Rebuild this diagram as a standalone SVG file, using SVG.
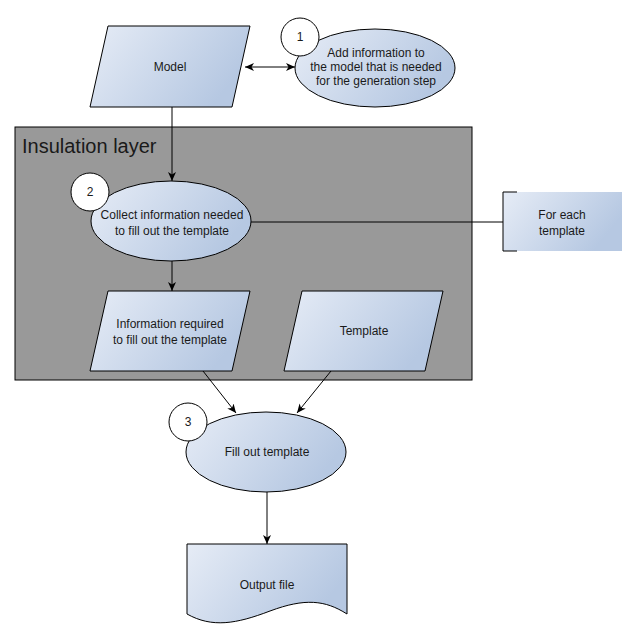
<svg xmlns="http://www.w3.org/2000/svg" width="637" height="640" viewBox="0 0 637 640">
<defs>
<linearGradient id="g" x1="0" y1="0" x2="1" y2="0.4">
<stop offset="0" stop-color="#e6ecf6"/>
<stop offset="1" stop-color="#b6c8e2"/>
</linearGradient>
<marker id="a" markerWidth="10" markerHeight="10" refX="9" refY="5" orient="auto" markerUnits="userSpaceOnUse">
<path d="M0,1 L9,5 L0,9 L2.5,5 Z" fill="#000"/>
</marker>
<marker id="as" markerWidth="10" markerHeight="10" refX="0" refY="5" orient="auto" markerUnits="userSpaceOnUse">
<path d="M9,1 L0,5 L9,9 L6.5,5 Z" fill="#000"/>
</marker>
</defs>
<style>
.s{fill:url(#g);stroke:#000;stroke-width:1}
.c{fill:#fff;stroke:#000;stroke-width:1}
.t{font-family:"Liberation Sans",Arial,sans-serif;font-size:12px;fill:#1a1a1a;text-anchor:middle}
.l{fill:none;stroke:#000;stroke-width:1}
</style>
<rect x="15" y="127" width="457" height="253" fill="#999999" stroke="#000" stroke-width="1"/>
<text x="22" y="153" font-family="'Liberation Sans',Arial,sans-serif" font-size="20" fill="#1a1a1a">Insulation layer</text>
<g id="connectors">
<line class="l" x1="245" y1="67" x2="295" y2="67" marker-start="url(#as)" marker-end="url(#a)"/>
<line class="l" x1="172" y1="107" x2="172" y2="181" marker-end="url(#a)"/>
<line class="l" x1="251" y1="222" x2="503" y2="222"/>
<line class="l" x1="172" y1="261" x2="172" y2="291" marker-end="url(#a)"/>
<line class="l" x1="203" y1="371" x2="236" y2="413" marker-end="url(#a)"/>
<line class="l" x1="331" y1="371" x2="297" y2="413" marker-end="url(#a)"/>
<line class="l" x1="267" y1="492" x2="267" y2="544" marker-end="url(#a)"/>
</g>
<g id="model">
<polygon class="s" points="108,26 250,26 232,107 90,107"/>
<text class="t" x="170" y="71">Model</text>
</g>
<g id="step1">
<ellipse class="s" cx="375" cy="68" rx="80" ry="39"/>
<circle class="c" cx="300" cy="37" r="19"/>
<text class="t" x="300" y="41">1</text>
<text class="t" x="376" y="57">Add information to</text>
<text class="t" x="376" y="71">the model that is needed</text>
<text class="t" x="376" y="85">for the generation step</text>
</g>
<g id="step2">
<ellipse class="s" cx="171" cy="221" rx="80" ry="40"/>
<circle class="c" cx="90" cy="192" r="19"/>
<text class="t" x="90" y="196">2</text>
<text class="t" x="172" y="219">Collect information needed</text>
<text class="t" x="172" y="235">to fill out the template</text>
</g>
<g id="foreach">
<rect x="503" y="192" width="119" height="59" fill="url(#g)"/>
<path class="l" d="M517,192 H503 V251 H517"/>
<text class="t" x="562" y="219">For each</text>
<text class="t" x="562" y="235">template</text>
</g>
<g id="info">
<polygon class="s" points="108,291 250,291 232,371 90,371"/>
<text class="t" x="170" y="328">Information required</text>
<text class="t" x="170" y="344">to fill out the template</text>
</g>
<g id="template">
<polygon class="s" points="302,291 443,291 425,371 284,371"/>
<text class="t" x="364" y="335">Template</text>
</g>
<g id="step3">
<ellipse class="s" cx="266" cy="452" rx="80" ry="40"/>
<circle class="c" cx="188" cy="422" r="19"/>
<text class="t" x="188" y="426">3</text>
<text class="t" x="267" y="456">Fill out template</text>
</g>
<g id="output">
<path class="s" d="M187,544 H347 V614 C325,600 305,598 270,611 C236,624 212,628 187,614 Z"/>
<text class="t" x="267" y="589">Output file</text>
</g>
</svg>
